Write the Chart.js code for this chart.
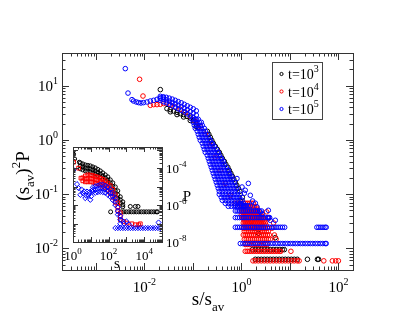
<!DOCTYPE html>
<html><head><meta charset="utf-8">
<script src="https://cdn.jsdelivr.net/npm/chart.js@4/dist/chart.umd.min.js"></script>
<style>
html,body{margin:0;padding:0;background:#fff;}
#wrap{position:relative;width:415px;height:317px;background:#fff;}
canvas{position:absolute;left:0;top:0;}
</style></head><body>
<div id="wrap"><canvas id="main" width="415" height="317"></canvas><canvas id="inset" width="415" height="317"></canvas></div>
<script>
// ---------- series labels & tick labels ----------
const seriesExp = ['3', '4', '5'];
const seriesColors = ['#000000', '#ff0000', '#0000ff'];
const mainXTickExp = [-2, 0, 2];
const mainYTickExp = [1, 0, -1, -2];
const insetXTickExp = [0, 2, 4];
const insetYTickExp = [-4, -6, -8];

// ---------- main plot: (s/s_av, s_av^2 P) ----------
const mainBlack = [
  [0.0213,8.45],
  [0.0292,3.77],[0.0342,3.62],[0.040,3.41],[0.047,3.23],[0.055,3.05],[0.0643,2.93],[0.0755,2.72],[0.0883,2.53],[0.1034,2.30],[0.1175,1.94],[0.129,1.71],
  [0.0342,3.3],[0.047,2.93],[0.0643,2.65],[0.0883,2.28],[0.1175,1.76],
  [0.1981,1.44],[0.2284,1.117],[0.2634,0.866],[0.3185,0.671],[0.376,0.52],[0.4441,0.403],[0.525,0.313],[0.605,0.242],[0.697,0.1878],[0.804,0.1456],[0.927,0.1129],[1.044,0.0875],
  [0.2128,1.268],[0.245,0.983],[0.2896,0.762],[0.3502,0.591],[0.4039,0.458],[0.4768,0.355],[0.563,0.275],[0.6493,0.2134],[0.7486,0.1654],[0.8632,0.1282],
  [0.949,0.077],[1.094,0.0597],[1.32,0.0425],[1.6,0.0316],[1.845,0.0235],[2.23,0.019],[5.0,0.0158]
];
const blackRowY = [0.0063, 0.0095];
const blackRowX = [
  [1.94,2.23,2.57,2.97,3.42,3.94,4.55,5.25,6.05,6.97,8.04,9.27,10.7,12.3,14.2,23,37,39],
  [1.68,1.94,2.23,2.57,2.97,3.42,3.94,4.55,5.25,6.05,6.97,7.66]
];
const mainRed = [
  [0.00796,13.1],[0.00935,6.44],
  [0.01324,4.34],[0.0155,4.47],[0.0182,4.47],[0.0213,4.53],[0.0249,4.67],[0.0292,4.79],
  [0.0342,4.4],[0.0434,4.04],[0.055,3.67],[0.0697,3.23],[0.0883,2.72],[0.112,2.2],[0.141,1.78],[0.18,1.27],
  [0.2285,0.79],[0.29,0.48],[0.367,0.275],[0.466,0.158],[0.59,0.095],[0.748,0.068],
  [4.3,0.0236],[4.8,0.0177],[5.2,0.0148],[3.6,0.0354],[4.6,0.0295],[3.3,0.0472]
];
const redRowY = [0.0059,0.00885,0.0118,0.01475,0.0177,0.02065,0.0236,0.02655,0.0295,0.03245,0.0354,0.03835,0.0413,0.0472,0.0531,0.059,0.068];
const redRowX = [
  [1.73,1.94,2.23,2.57,2.97,3.42,3.94,4.55,5.25,6.05,6.97,8.04,9.27,10.7,12.3,14.2,15.5,50,75,88,100],
  [1.2,1.32,1.45,1.6,1.76,1.94,2.13,2.34,2.57,2.83,3.11,3.42,3.76,4.14,4.55,5.0,5.5,6.05,6.5,10.5],
  [1.203,1.323,1.455,1.60,1.76,1.935,2.13,2.34,2.57,2.83,3.11,3.42],
  [1.148,1.262,1.387,1.526,1.677,1.844,2.03,2.23,2.45,2.70,2.965,3.26,3.585,3.94],
  [1.094,1.203,1.323,1.455,1.60,1.76,1.935,2.13,2.34,2.57,2.83,3.11,3.42,3.76],
  [1.148,1.262,1.387,1.526,1.677,1.844,2.03,2.23,2.45,2.70,2.965,3.26,3.585],
  [1.094,1.203,1.323,1.455,1.60,1.76,1.935,2.13,2.34,2.57,2.83,3.11,3.42],
  [1.148,1.262,1.387,1.526,1.677,1.844,2.03,2.23,2.45,2.70,2.965,3.26],
  [1.094,1.203,1.323,1.455,1.60,1.76,1.935,2.13,2.34,2.57,2.83,3.11],
  [1.148,1.262,1.387,1.526,1.677,1.844,2.03,2.23,2.45,2.70,2.965],
  [1.094,1.203,1.323,1.455,1.60,1.76,1.935,2.13,2.34,2.57,2.83],
  [1.044,1.148,1.262,1.387,1.526,1.677,1.844,2.03,2.23,2.45,2.70],
  [0.995,1.094,1.203,1.323,1.455,1.60,1.76,1.935,2.13,2.34,2.57],
  [1.044,1.148,1.262,1.387,1.526,1.677,1.844,2.03,2.23],
  [0.995,1.094,1.203,1.323,1.455,1.60,1.76,1.935,2.13],
  [0.949,1.044,1.148,1.262,1.387,1.526,1.677,1.844,2.03],
  [0.905,0.995,1.094,1.203,1.323,1.455,1.60,1.76]
];
const mainBlue = [
  [0.00404,20.6],[0.00459,7.3],
  [0.00555,5.53],[0.00598,5.21],[0.0068,5.0],[0.00759,4.87],[0.0085,4.79],[0.0096,4.87],[0.0113,5.0],[0.01324,5.21],[0.0155,5.37],[0.0182,5.6],[0.0213,5.92],[0.0249,6.02],
  [0.02127,6.36],[0.02127,5.85],[0.02127,5.37],
  [0.02452,6.23],[0.02452,5.60],[0.02452,5.04],
  [0.02827,6.10],[0.02827,5.46],[0.02827,4.83],
  [0.0326,5.89],[0.0326,5.17],[0.0326,4.53],
  [0.03759,5.65],[0.03759,4.89],[0.03759,4.25],
  [0.04335,5.37],[0.04335,4.63],[0.04335,3.99],
  [0.05,5.08],[0.05,4.36],[0.05,3.74],
  [0.05763,4.83],[0.05763,4.11],[0.05763,3.51],
  [0.06646,4.53],[0.06646,3.86],[0.06646,3.30],
  [0.0766,4.25],[0.0766,3.59],[0.0766,3.03],
  [0.0884,3.99],[0.0884,3.32],[0.0884,2.78],
  [0.1019,3.74],[0.1019,3.12],[0.1019,2.61],
  [0.1175,3.44],[0.1175,2.86],[0.1175,2.40],
  [1.03,0.1355],[1.2,0.118],[1.526,0.0953],[1.70,0.0748],[2.1,0.058],[2.45,0.0469],[3.64,0.037],[3.94,0.033],
  [0.81,0.194],[1.39,0.158],[1.15,0.104],[1.94,0.068],[2.7,0.0425],[5.0,0.033],[3.59,0.0504]
];
const blueBandY = [2.397,2.110,1.858,1.636,1.440,1.268,1.117,0.983,0.866,0.762,0.671,0.591,0.520,0.458,0.403,0.355,0.313,0.275,0.242,0.2134,0.1878,0.1654,0.1456,0.1282,0.1129,0.0994,0.0875,0.0770,0.0678,0.0597];
const blueBandX = [
  [0.0972,0.1121,0.1292],
  [0.1019,0.1175,0.1355,0.149],
  [0.1069,0.1232,0.1421,0.1562],
  [0.1121,0.1292,0.149,0.1718],
  [0.1232,0.1421,0.1638,0.1801],
  [0.1292,0.149,0.1718,0.1981],
  [0.1355,0.1562,0.1801,0.2077],
  [0.1421,0.1638,0.1889,0.2178,0.2284],
  [0.1562,0.1801,0.2077,0.2395,0.2512],
  [0.1638,0.1889,0.2178,0.2512,0.2762],
  [0.1718,0.1981,0.2284,0.2634,0.3037],
  [0.1801,0.2077,0.2395,0.2762,0.3185,0.334],
  [0.1981,0.2284,0.2634,0.3037,0.3502],
  [0.2077,0.2395,0.2762,0.3185,0.3673,0.3851],
  [0.2178,0.2512,0.2896,0.334,0.3851,0.4235],
  [0.2284,0.2634,0.3037,0.3502,0.4039,0.4441],
  [0.2395,0.2762,0.3185,0.3673,0.4235,0.4883],
  [0.2512,0.2896,0.334,0.3851,0.4441,0.5121,0.537],
  [0.2634,0.3037,0.3502,0.4039,0.4656,0.537,0.563],
  [0.2762,0.3185,0.3673,0.4235,0.4883,0.563,0.6192],
  [0.2896,0.334,0.3851,0.4441,0.5121,0.5905,0.6493],
  [0.3037,0.3502,0.4039,0.4656,0.537,0.6192,0.714],
  [0.3185,0.3673,0.4235,0.4883,0.563,0.6493,0.7486],
  [0.334,0.3851,0.4441,0.5121,0.5905,0.6808,0.785],
  [0.3502,0.4039,0.4656,0.537,0.6192,0.714,0.8232],
  [0.3502,0.4039,0.4656,0.537,0.6192,0.714,0.8232,0.9491],
  [0.3851,0.4441,0.5121,0.5905,0.6808,0.785,0.9052],
  [0.4039,0.4656,0.537,0.6192,0.714,0.8232,0.9491,1.0437],
  [0.4656,0.537,0.6192,0.714,0.8232,0.9491,1.0944],
  [0.537,0.6192,0.714,0.8232,0.9491,1.0944,1.2034]
];
const blueRowY = [0.0123, 0.0245, 0.037, 0.049, 0.0615];
const blueRowX = [
  [0.95,1.07,1.2,1.35,1.52,1.72,1.93,2.18,2.45,2.76,3.1,3.5,3.94,4.43,5.0,5.62,6.33,7.13,8.03,9.04,10.2,11.5,12.9,14.5,16.4,18.4,20.7,23.4,26.3,29.6,33.4,37.6,42.3,47.6,53.6,56],
  [0.75,0.83,0.92,1.02,1.13,1.25,1.38,1.53,1.7,1.88,2.08,2.3,2.55,2.82,3.12,3.45,3.82,4.23,4.68,5.18,5.73,6.34,7.02,7.8,36,39.5,43.5,48,53,56],
  [0.75,0.83,0.92,1.02,1.13,1.25,1.38,1.53,1.7,1.88,2.08,2.3,2.55,2.82,3.12,3.45,3.82],
  [0.75,0.82,0.9,0.99,1.09,1.2,1.32,1.45,1.6,1.76,1.94,2.13,2.34,2.6],
  [0.75,0.83,0.92,1.02,1.13,1.25,1.38,1.53]
];

// ---------- inset: (s, P) ----------
const insetBlack = [
  [1.08,5.7e-4],[1.23,3.17e-4],[2.26,2.1e-4],
  [2.57,1.93e-4],[2.57,1.33e-4],[2.57,9.14e-5],
  [3.55,1.70e-4],[3.55,1.17e-4],[3.55,8.07e-5],
  [4.91,1.50e-4],[4.91,1.03e-4],[4.91,7.12e-5],
  [6.78,1.41e-4],[6.78,9.72e-5],[6.78,6.70e-5],
  [9.37,1.33e-4],[9.37,9.14e-5],[9.37,6.29e-5],
  [12.95,1.17e-4],[12.95,8.07e-5],[12.95,5.55e-5],
  [17.9,1.03e-4],[17.9,7.12e-5],[17.9,4.90e-5],
  [24.7,8.59e-5],[24.7,5.91e-5],[24.7,4.07e-5],
  [34.2,7.12e-5],[34.2,4.90e-5],[34.2,3.38e-5],
  [47.2,5.55e-5],[47.2,3.82e-5],[47.2,2.63e-5],
  [65.3,4.33e-5],[65.3,2.98e-5],[65.3,2.05e-5],
  [90.2,3.38e-5],[90.2,2.32e-5],[90.2,1.60e-5],
  [124.6,2.32e-5],[124.6,1.60e-5],[124.6,1.10e-5],
  [172.2,1.60e-5],[172.2,1.04e-5],[172.2,6.69e-6],
  [237.9,9.72e-6],[237.9,5.91e-6],[237.9,4.07e-6],
  [328.8,5.91e-6],[328.8,3.59e-6],[328.8,2.32e-6],
  [454.3,2.80e-6],[454.3,1.93e-6],[454.3,1.33e-6],
  [627.8,1.50e-6],[627.8,1.03e-6],[627.8,8.07e-7]
];
const insetBlackRowY = [4.3e-7, 8.4e-7];
const insetBlackRowX = [
  [130,520,720,990,1370,1900,2620,3620,5000,6900,9550,13200,18200,25200,34800,48000,56000],
  [1660,3170,4470]
];
const insetRed = [
  [1.08,2.1e-4],[2.06,1.0e-4],[2.8,2.87e-5],
  [3.55,2.98e-5],[3.55,2.05e-5],
  [4.91,3.82e-5],[4.91,2.63e-5],[4.91,1.81e-5],
  [6.78,4.33e-5],[6.78,2.80e-5],[6.78,1.81e-5],
  [9.37,4.22e-5],[9.37,2.77e-5],[9.37,1.81e-5],
  [12.95,3.97e-5],[12.95,2.63e-5],[12.95,1.75e-5],
  [17.9,3.59e-5],[17.9,2.38e-5],[17.9,1.60e-5],
  [24.7,3.29e-5],[24.7,2.18e-5],[24.7,1.45e-5],
  [34.2,2.87e-5],[34.2,1.86e-5],[34.2,1.22e-5],
  [47.2,2.47e-5],[47.2,1.60e-5],[47.2,1.04e-5],
  [65.3,2.05e-5],[65.3,1.33e-5],[65.3,8.59e-6],
  [90.2,1.56e-5],[90.2,9.97e-6],[90.2,6.45e-6],
  [124.6,1.13e-5],[124.6,7.04e-6],[124.6,4.33e-6],
  [172.2,7.12e-6],[172.2,4.33e-6],[172.2,2.63e-6],
  [237.9,3.59e-6],[237.9,2.24e-6],[237.9,1.41e-6],
  [328.8,1.33e-6],[328.8,8.07e-7],[328.8,4.90e-7],
  [454.3,3.82e-7],[454.3,2.47e-7],[454.3,1.60e-7],
  [696,1.29e-7],[1080,1.06e-7],[2070,9.7e-8],[3160,8.6e-8],[4840,8.6e-8],[6040,9.7e-8]
];
const insetBlue = [
  [1.08,8.07e-5],[1.68,1.36e-5],[2.06,8.3e-6],[2.57,3.59e-6],[3.65,4.4e-6],[4.91,2.38e-6],[7.52,3.59e-6],[9.37,1.93e-6],[6.12,5.4e-6],
  [3.0,7.0e-6],[4.2,5.5e-6],[5.5,3.2e-6],[8.3,5.0e-6],[10.5,3.0e-6],[11.5,6.0e-6],
  [12.95,9.14e-6],[12.95,6.86e-6],[12.95,5.22e-6],
  [17.9,1.04e-5],[17.9,6.86e-6],[17.9,4.61e-6],
  [24.7,1.14e-5],[24.7,7.58e-6],[24.7,5.03e-6],
  [34.2,1.29e-5],[34.2,8.27e-6],[34.2,5.22e-6],
  [47.2,1.28e-5],[47.2,8.07e-6],[47.2,5.03e-6],
  [65.3,1.13e-5],[65.3,7.21e-6],[65.3,4.61e-6],
  [90.2,9.37e-6],[90.2,5.91e-6],[90.2,3.68e-6],
  [124.6,7.12e-6],[124.6,4.50e-6],[124.6,2.80e-6],
  [172.2,4.50e-6],[172.2,2.87e-6],[172.2,1.86e-6],
  [237.9,2.32e-6],[237.9,1.54e-6],[237.9,1.01e-6],
  [328.8,7.39e-7],[328.8,4.72e-7],[328.8,3.05e-7],
  [454.3,2.63e-7],[454.3,1.60e-7],[454.3,9.72e-8],
  [550,1.5e-7],[750,1.0e-7],[1000,1.3e-7],[1400,9e-8],[6.4e4,1.14e-7]
];
const insetBlueRowY = [5.7e-8];
const insetBlueRowX = [
  [240,330,460,640,880,1220,1680,2330,3220,4450,6150,8500,11700,16200,22400,31000,42800,59000,80000]
];

// ---------- helpers ----------
const pts = a => a.map(([x, y]) => ({x, y}));
const rows = (ys, xs) => ys.flatMap((y, i) => xs[i].map(x => ({x, y})));
const FONT = '"Liberation Serif", "Times New Roman", serif';
const FRAME = '#333333';

function drawPow(ctx, base, exp, x, y, size, esize, raise, align) {
  ctx.font = size + 'px ' + FONT;
  const wb = ctx.measureText(base).width;
  ctx.font = esize + 'px ' + FONT;
  const we = ctx.measureText(exp).width;
  let x0 = x;
  if (align === 'center') x0 = x - (wb + we) / 2;
  else if (align === 'right') x0 = x - (wb + we);
  ctx.textAlign = 'left';
  ctx.textBaseline = 'alphabetic';
  ctx.font = size + 'px ' + FONT;
  ctx.fillText(base, x0, y);
  ctx.font = esize + 'px ' + FONT;
  ctx.fillText(exp, x0 + wb, y - raise);
}

function logTicks(ctx, scale, horizontal, area, majorLen, minorLen) {
  const lo = Math.floor(Math.log10(scale.min)), hi = Math.ceil(Math.log10(scale.max));
  ctx.beginPath();
  for (let d = lo; d <= hi; d++) {
    for (let m = 1; m <= 9; m++) {
      const v = m * Math.pow(10, d);
      if (v < scale.min * 1.0001 || v > scale.max * 0.9999) continue;
      const p = Math.round(scale.getPixelForValue(v)) + 0.5;
      const len = m === 1 ? majorLen : minorLen;
      if (horizontal) {
        ctx.moveTo(p, area.bottom); ctx.lineTo(p, area.bottom - len);
        ctx.moveTo(p, area.top); ctx.lineTo(p, area.top + len);
      } else {
        ctx.moveTo(area.left, p); ctx.lineTo(area.left + len, p);
        ctx.moveTo(area.right, p); ctx.lineTo(area.right - len, p);
      }
    }
  }
  ctx.stroke();
}

function frame(ctx, a) {
  ctx.strokeStyle = FRAME;
  ctx.lineWidth = 1;
  ctx.strokeRect(Math.round(a.left) + 0.5, Math.round(a.top) + 0.5,
                 Math.round(a.right - a.left), Math.round(a.bottom - a.top));
}

const mainDecor = {
  id: 'mainDecor',
  afterDraw(chart) {
    const ctx = chart.ctx, a = chart.chartArea;
    const xs = chart.scales.x, ys = chart.scales.y;
    ctx.save();
    frame(ctx, a);
    logTicks(ctx, xs, true, a, 7, 3.5);
    logTicks(ctx, ys, false, a, 7, 3.5);
    ctx.fillStyle = '#000';
    mainXTickExp.forEach(e => {
      const p = xs.getPixelForValue(Math.pow(10, e));
      drawPow(ctx, '10', String(e), p, a.bottom + 22, 15, 10, 7, 'center');
    });
    mainYTickExp.forEach(e => {
      const p = ys.getPixelForValue(Math.pow(10, e));
      drawPow(ctx, '10', String(e), a.left - 4, p + 5, 15, 10, 7, 'right');
    });
    ctx.font = '19px ' + FONT;
    const w1 = ctx.measureText('s/s').width;
    ctx.font = '13px ' + FONT;
    const w2 = ctx.measureText('av').width;
    const xt = 208 - (w1 + w2) / 2;
    ctx.font = '19px ' + FONT; ctx.textAlign = 'left'; ctx.textBaseline = 'alphabetic';
    ctx.fillText('s/s', xt, 305);
    ctx.font = '13px ' + FONT; ctx.fillText('av', xt + w1, 311);
    ctx.save();
    ctx.translate(29, 176);
    ctx.rotate(-Math.PI / 2);
    const parts = [['(s', 19, 0], ['av', 13, 5], [')', 19, 0], ['2', 13, -9], ['P', 19, 0]];
    let tw = 0;
    parts.forEach(p => { ctx.font = p[1] + 'px ' + FONT; tw += ctx.measureText(p[0]).width; });
    let cx = -tw / 2;
    parts.forEach(p => { ctx.font = p[1] + 'px ' + FONT; ctx.fillText(p[0], cx, p[2]); cx += ctx.measureText(p[0]).width; });
    ctx.restore();
    ctx.fillStyle = '#fff';
    ctx.fillRect(272.5, 62.5, 50, 57);
    ctx.strokeStyle = '#444';
    ctx.strokeRect(272.5, 62.5, 50, 57);
    chart.data.datasets.forEach((ds, i) => {
      const yy = 74 + i * 17.5;
      ctx.beginPath();
      ctx.strokeStyle = ds.borderColor;
      ctx.arc(281.5, yy, 1.6, 0, Math.PI * 2);
      ctx.stroke();
      ctx.fillStyle = '#000';
      drawPow(ctx, 't=10', seriesExp[i], 288, yy + 5, 14, 10, 7, 'left');
    });
    ctx.restore();
  }
};

const insetDecor = {
  id: 'insetDecor',
  beforeDatasetsDraw(chart) {
    const ctx = chart.ctx, a = chart.chartArea;
    ctx.save(); ctx.fillStyle = '#fff';
    ctx.fillRect(a.left, a.top, a.right - a.left, a.bottom - a.top);
    ctx.restore();
  },
  afterDraw(chart) {
    const ctx = chart.ctx, a = chart.chartArea;
    const xs = chart.scales.x, ys = chart.scales.y;
    ctx.save();
    frame(ctx, a);
    logTicks(ctx, xs, true, a, 5, 2.5);
    logTicks(ctx, ys, false, a, 5, 2.5);
    ctx.fillStyle = '#000';
    insetXTickExp.forEach(e => {
      const p = xs.getPixelForValue(Math.pow(10, e));
      drawPow(ctx, '10', String(e), p, a.bottom + 18, 13, 9, 6, 'center');
    });
    insetYTickExp.forEach(e => {
      const p = ys.getPixelForValue(Math.pow(10, e));
      drawPow(ctx, '10', String(e), a.right + 4, p + 5, 13, 9, 6, 'left');
    });
    ctx.font = '15px ' + FONT; ctx.textAlign = 'center';
    ctx.fillText('s', 117, 268);
    ctx.fillText('P', 187, 201);
    ctx.restore();
  }
};

const common = {
  responsive: false, animation: false, devicePixelRatio: 1, events: [],
  plugins: { legend: { display: false }, tooltip: { enabled: false } }
};

new Chart(document.getElementById('main'), {
  type: 'scatter',
  data: { datasets: [
    { label: 't=10^3', data: pts(mainBlack).concat(rows(blackRowY, blackRowX)), borderColor: seriesColors[0], order: 3 },
    { label: 't=10^4', data: pts(mainRed).concat(rows(redRowY, redRowX)), borderColor: seriesColors[1], order: 2 },
    { label: 't=10^5', data: pts(mainBlue).concat(rows(blueBandY, blueBandX), rows(blueRowY, blueRowX)), borderColor: seriesColors[2], order: 1 }
  ].map(d => Object.assign(d, { backgroundColor: 'rgba(0,0,0,0)', pointRadius: 2.3, borderWidth: 1 })) },
  options: Object.assign({}, common, {
    layout: { padding: { left: 62, top: 53, right: 62, bottom: 47 } },
    scales: {
      x: { type: 'logarithmic', min: 2e-4, max: 200, display: false },
      y: { type: 'logarithmic', min: 0.004, max: 40, display: false }
    }
  }),
  plugins: [mainDecor]
});

new Chart(document.getElementById('inset'), {
  type: 'scatter',
  data: { datasets: [
    { label: 't=10^3', data: pts(insetBlack).concat(rows(insetBlackRowY, insetBlackRowX)), borderColor: seriesColors[0], order: 3, pointStyle: 'circle', pointRadius: 2 },
    { label: 't=10^4', data: pts(insetRed), borderColor: seriesColors[1], order: 2, pointStyle: 'rect', pointRadius: 2.6 },
    { label: 't=10^5', data: pts(insetBlue).concat(rows(insetBlueRowY, insetBlueRowX)), borderColor: seriesColors[2], order: 1, pointStyle: 'rectRot', pointRadius: 2.6 }
  ].map(d => Object.assign(d, { backgroundColor: 'rgba(0,0,0,0)', borderWidth: 1 })) },
  options: Object.assign({}, common, {
    layout: { padding: { left: 73, top: 147, right: 253, bottom: 75 } },
    scales: {
      x: { type: 'logarithmic', min: 1, max: 1e5, display: false },
      y: { type: 'logarithmic', min: 1e-8, max: 1.4e-3, display: false }
    }
  }),
  plugins: [insetDecor]
});
</script>
</body></html>
